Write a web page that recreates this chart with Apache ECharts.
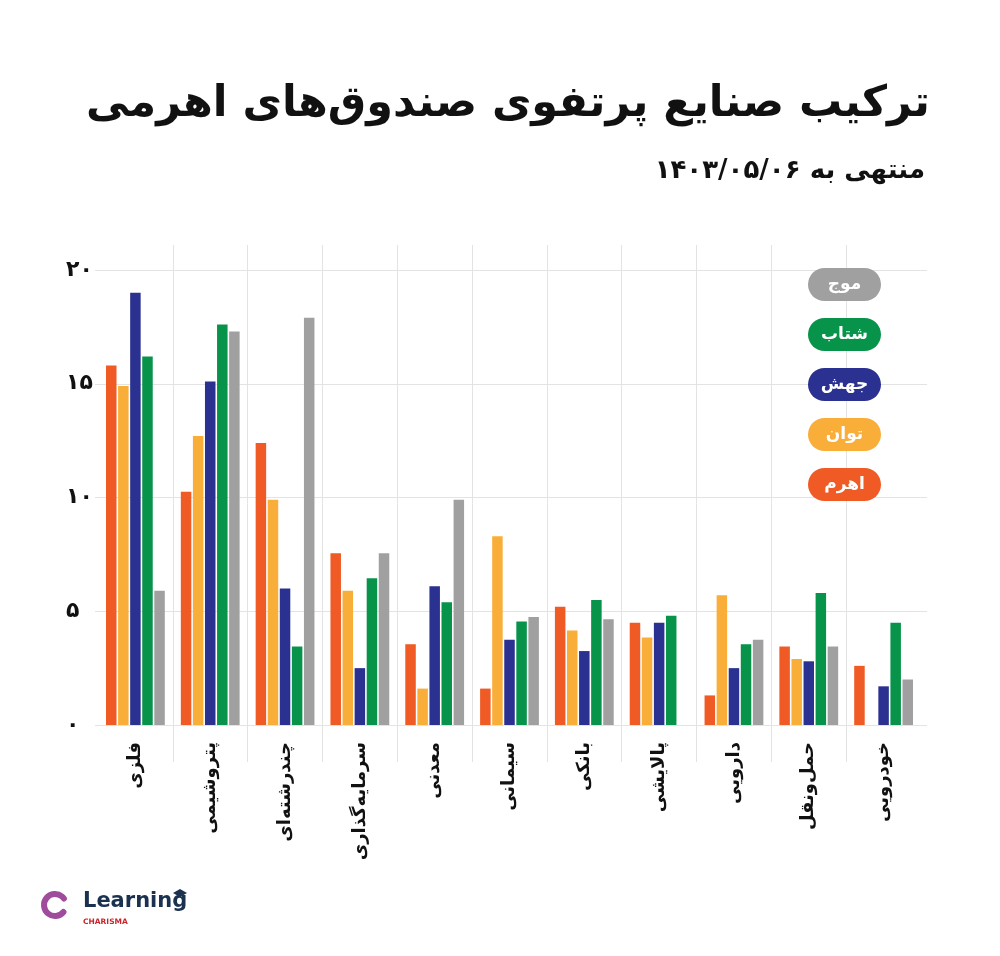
<!DOCTYPE html>
<html>
<head>
<meta charset="utf-8">
<script src="https://cdn.jsdelivr.net/npm/echarts@6/dist/echarts.min.js"></script>
<style>
  html, body { margin: 0; padding: 0; background: #fff; }
  #chart { width: 1000px; height: 956px; }
</style>
</head>
<body>
<div id="chart"></div>
<script>
// داده‌ها
var sanaye = ['فلزی', 'پتروشیمی', 'چندرشته\u200cای', 'سرمایه\u200cگذاری', 'معدنی', 'سیمانی', 'بانکی', 'پالایشی', 'دارویی', 'حمل\u200cونقل', 'خودرویی'];
var ahrom  = [15.8, 10.25, 12.4, 7.55, 3.55, 1.6, 5.2, 4.5, 1.3, 3.45, 2.6];
var tavan  = [14.9, 12.7, 9.9, 5.9, 1.6, 8.3, 4.15, 3.85, 5.7, 2.9, null];
var jahesh = [19.0, 15.1, 6.0, 2.5, 6.1, 3.75, 3.25, 4.5, 2.5, 2.8, 1.7];
var shetab = [16.2, 17.6, 3.45, 6.45, 5.4, 4.55, 5.5, 4.8, 3.55, 5.8, 4.5];
var moj    = [5.9, 17.3, 17.9, 7.55, 9.9, 4.75, 4.65, null, 3.75, 3.45, 2.0];
var yTickLabels = ['۰', '۵', '۱۰', '۱۵', '۲۰'];

var names = ['اهرم', 'توان', 'جهش', 'شتاب', 'موج'];
var rangha = ['#F05A24', '#F9AE3A', '#2B3190', '#07934A', '#A0A0A0'];
var values = [ahrom, tavan, jahesh, shetab, moj];

var font = 'DejaVu Sans';
var gridColor = '#E3E3E3';

var myChart = echarts.init(document.getElementById('chart'));

var series = names.map(function (n, i) {
    return {
        name: n,
        type: 'bar',
        xAxisIndex: 0,
        yAxisIndex: 0,
        data: values[i],
        barWidth: 10.5,
        barGap: '15%',
        itemStyle: { color: rangha[i] },
        animation: false
    };
});

// راهنما: قرص‌های رنگی، از بالا به پایین موج ... اهرم
var legendItems = [];
names.slice().reverse().forEach(function (n, k) {
    var c = rangha[names.indexOf(n)];
    legendItems.push({
        type: 'rect',
        shape: { x: 808, y: 268 + k * 50, width: 73, height: 33, r: 16.5 },
        style: { fill: c },
        z: 100
    });
    legendItems.push({
        type: 'text',
        x: 844.5,
        y: 284.5 + k * 50,
        style: {
            text: n,
            fill: '#fff',
            font: 'bold 17px ' + font,
            align: 'center',
            verticalAlign: 'middle'
        },
        z: 101
    });
});

var option = {
    backgroundColor: '#fff',
    animation: false,
    title: [{
        text: 'ترکیب صنایع پرتفوی صندوق\u200cهای اهرمی',
        left: 925,
        top: 78,
        textAlign: 'right',
        textStyle: { fontSize: 43, fontWeight: 'bold', color: '#111', fontFamily: font }
    }, {
        text: 'منتهی به ۱۴۰۳/۰۵/۰۶',
        left: 920,
        top: 153,
        textAlign: 'right',
        textStyle: { fontSize: 26, fontWeight: 'bold', color: '#111', fontFamily: font }
    }],
    grid: [
        { left: 98, right: 79, top: 270, bottom: 231 },
        { left: 95, right: 73, top: 270, bottom: 231 },
        { left: 98, right: 79, top: 245, bottom: 194 }
    ],
    xAxis: [{
        type: 'category',
        gridIndex: 0,
        data: sanaye,
        axisLine: { show: false },
        axisTick: { show: false },
        splitLine: { show: false },
        axisLabel: {
            rotate: 90,
            margin: 17,
            interval: 0,
            color: '#111',
            fontSize: 18,
            fontWeight: 'bold',
            fontFamily: font
        }
    }, {
        type: 'value',
        gridIndex: 1,
        show: false
    }, {
        type: 'category',
        gridIndex: 2,
        data: sanaye,
        axisLine: { show: false },
        axisTick: { show: false },
        axisLabel: { show: false },
        splitLine: {
            show: true,
            showMinLine: false,
            showMaxLine: false,
            interval: 0,
            lineStyle: { color: gridColor, width: 1 }
        }
    }],
    yAxis: [{
        type: 'value',
        gridIndex: 0,
        min: 0, max: 20, interval: 5,
        show: false
    }, {
        type: 'value',
        gridIndex: 1,
        min: 0, max: 20, interval: 5,
        axisLine: { show: false },
        axisTick: { show: false },
        splitLine: { lineStyle: { color: gridColor, width: 1 } },
        axisLabel: {
            align: 'left',
            margin: 29,
            color: '#111',
            fontSize: 22,
            fontWeight: 'bold',
            fontFamily: font,
            formatter: function (v) { return yTickLabels[v / 5]; }
        }
    }, {
        type: 'value',
        gridIndex: 2,
        show: false
    }],
    graphic: legendItems.concat([{
        type: 'arc',
        shape: { cx: 55, cy: 905, r: 11, startAngle: Math.PI * 0.22, endAngle: Math.PI * 1.8 },
        style: { stroke: '#9E4C9B', lineWidth: 6, fill: null, lineCap: 'round' }
    }, {
        type: 'text',
        left: 83,
        top: 891,
        style: { text: 'Learning', fill: '#1B3150', font: 'bold 21px ' + font }
    }, {
        type: 'polygon',
        shape: { points: [[173, 893], [180, 889], [187, 893], [180, 897]] },
        style: { fill: '#1B3150' }
    }, {
        type: 'text',
        left: 83,
        top: 918,
        style: { text: 'CHARISMA', fill: '#C8262C', font: 'bold 7.5px ' + font }
    }]),
    series: series
};

myChart.setOption(option);
</script>
</body>
</html>
